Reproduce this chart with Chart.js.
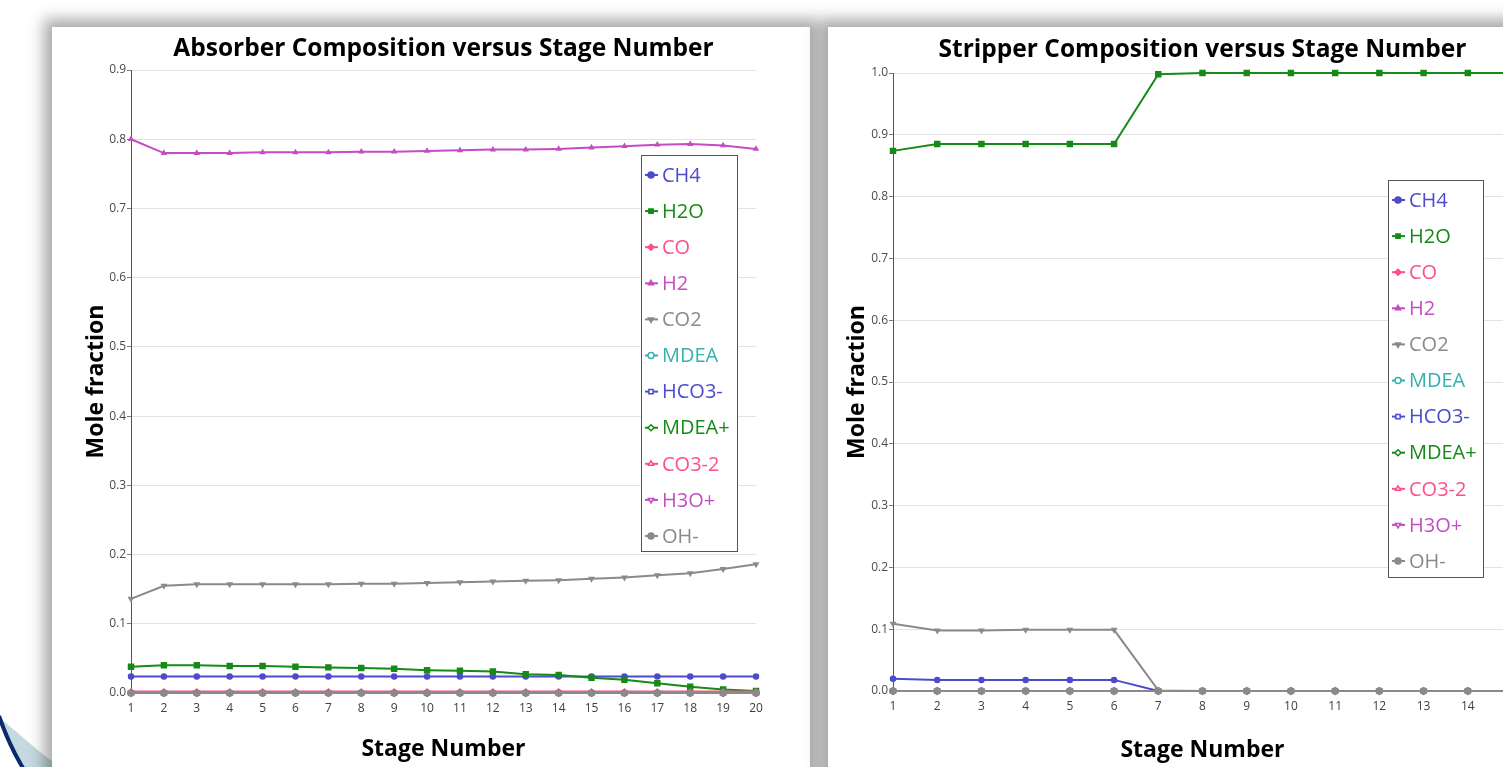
<!DOCTYPE html>
<html>
<head>
<meta charset="utf-8">
<script src="https://cdn.jsdelivr.net/npm/chart.js@4.4.0/dist/chart.umd.min.js"></script>
<style>
  html, body { margin: 0; padding: 0; width: 1503px; height: 767px; overflow: hidden; background: #fff; }
  .deco { position: absolute; left: 0; top: 700px; }
  .panel { position: absolute; background: #fff; overflow: hidden; box-shadow: 0 0 14px 8px rgba(0,0,0,0.34); }
  #panelA { left: 52px; top: 27px; width: 758px; height: 780px; }
  #panelB { left: 828px; top: 27px; width: 720px; height: 780px; }
  canvas { position: absolute; left: 0; top: 0; }
</style>
</head>
<body>
<svg class="deco" width="70" height="67" viewBox="0 700 70 67">
  <path d="M0,718 Q9,745 23,767 L60,767 L40,752 Z" fill="#c4d9e0"/>
  <path d="M-1,716 Q9,745 23,768" fill="none" stroke="#0b2a6b" stroke-width="4"/>
</svg>
<div class="panel" id="panelA"><canvas id="absChart" width="758" height="740"></canvas></div>
<div class="panel" id="panelB"><canvas id="strChart" width="700" height="740"></canvas></div>

<script>
// nama komponen (urutan legend)
const components = ['CH4', 'H2O', 'CO', 'H2', 'CO2', 'MDEA', 'HCO3-', 'MDEA+', 'CO3-2', 'H3O+', 'OH-'];

// Absorber - 20 stage
const absStages = ['1','2','3','4','5','6','7','8','9','10','11','12','13','14','15','16','17','18','19','20'];
const absCH4 = [0.024,0.024,0.024,0.024,0.024,0.024,0.024,0.024,0.024,0.024,0.024,0.024,0.024,0.024,0.024,0.024,0.024,0.024,0.024,0.024];
const absH2O = [0.038,0.040,0.040,0.039,0.039,0.038,0.037,0.036,0.035,0.033,0.032,0.031,0.027,0.026,0.022,0.019,0.014,0.009,0.005,0.003];
const absCO  = [0.002,0.002,0.002,0.002,0.002,0.002,0.002,0.002,0.002,0.002,0.002,0.002,0.002,0.002,0.002,0.002,0.002,0.002,0.002,0.002];
const absH2  = [0.800,0.780,0.780,0.780,0.781,0.781,0.781,0.782,0.782,0.783,0.784,0.785,0.785,0.786,0.788,0.790,0.792,0.793,0.791,0.786];
const absCO2 = [0.136,0.155,0.157,0.157,0.157,0.157,0.157,0.158,0.158,0.159,0.160,0.161,0.162,0.163,0.165,0.167,0.170,0.173,0.179,0.186];
const absIons = [0,0,0,0,0,0,0,0,0,0,0,0,0,0,0,0,0,0,0,0]; // MDEA, HCO3-, MDEA+, CO3-2, H3O+, OH-

// Stripper - 15 stage (yang terlihat)
const strStages = ['1','2','3','4','5','6','7','8','9','10','11','12','13','14','15'];
const strCH4 = [0.020,0.018,0.018,0.018,0.018,0.018,0,0,0,0,0,0,0,0,0];
const strH2O = [0.874,0.885,0.885,0.885,0.885,0.885,0.998,1.0,1.0,1.0,1.0,1.0,1.0,1.0,1.0];
const strCO  = [0,0,0,0,0,0,0,0,0,0,0,0,0,0,0];
const strH2  = [0,0,0,0,0,0,0,0,0,0,0,0,0,0,0];
const strCO2 = [0.109,0.098,0.098,0.099,0.099,0.099,0.001,0,0,0,0,0,0,0,0];
const strIons = [0,0,0,0,0,0,0,0,0,0,0,0,0,0,0];

const absYTicks = ['0.0','0.1','0.2','0.3','0.4','0.5','0.6','0.7','0.8','0.9'];
const strYTicks = ['0.0','0.1','0.2','0.3','0.4','0.5','0.6','0.7','0.8','0.9','1.0'];

// gaya tiap komponen
const styles = {
  'CH4':   { color: '#4b4bcc', point: 'circle',   rot: 0,   filled: true,  r: 2.5 },
  'H2O':   { color: '#168a16', point: 'rect',     rot: 0,   filled: true,  r: 3.5 },
  'CO':    { color: '#ff4f86', point: 'rectRot',  rot: 0,   filled: true,  r: 2.5 },
  'H2':    { color: '#c44cc4', point: 'triangle', rot: 0,   filled: true,  r: 2.2 },
  'CO2':   { color: '#8a8a8a', point: 'triangle', rot: 180, filled: true,  r: 2.5 },
  'MDEA':  { color: '#35b0b0', point: 'circle',   rot: 0,   filled: false, r: 2.5 },
  'HCO3-': { color: '#4b4bcc', point: 'rect',     rot: 0,   filled: false, r: 3 },
  'MDEA+': { color: '#168a16', point: 'rectRot',  rot: 0,   filled: false, r: 3 },
  'CO3-2': { color: '#ff4f86', point: 'triangle', rot: 0,   filled: false, r: 3 },
  'H3O+':  { color: '#c44cc4', point: 'triangle', rot: 180, filled: false, r: 3 },
  'OH-':   { color: '#8a8a8a', point: 'circle',   rot: 0,   filled: true,  r: 3 },
};

Chart.defaults.font.family = '"Open Sans", sans-serif';

function makeDataset(name, values, idx) {
  const s = styles[name];
  return {
    label: name,
    data: values,
    order: components.length - idx, // seri terakhir digambar paling atas
    borderColor: s.color,
    backgroundColor: s.color,
    borderWidth: 2,
    pointStyle: s.point,
    pointRotation: s.rot,
    pointRadius: s.r,
    pointBorderWidth: 1.5,
    pointBackgroundColor: s.filled ? s.color : '#ffffff',
    pointBorderColor: s.color,
    tension: 0,
    clip: false,
  };
}

// legend kotak di dalam area plot
const boxLegend = {
  id: 'boxLegend',
  afterDraw(chart, args, opts) {
    const { ctx, chartArea } = chart;
    const x0 = Math.round(chartArea.right - opts.right);
    const y0 = Math.round(chartArea.top + opts.top);
    ctx.save();
    ctx.fillStyle = '#fff';
    ctx.fillRect(x0, y0, opts.width, opts.height);
    ctx.strokeStyle = '#555';
    ctx.lineWidth = 1;
    ctx.strokeRect(x0 + 0.5, y0 + 0.5, opts.width, opts.height);
    chart.data.datasets.forEach((ds, i) => {
      const cy = y0 + 20 + i * 36.1;
      ctx.strokeStyle = ds.borderColor;
      ctx.lineWidth = 2;
      ctx.beginPath();
      ctx.moveTo(x0 + 4, cy);
      ctx.lineTo(x0 + 17, cy);
      ctx.stroke();
      ctx.fillStyle = ds.pointBackgroundColor;
      ctx.lineWidth = 1.5;
      Chart.helpers.drawPoint(ctx, { pointStyle: ds.pointStyle, rotation: ds.pointRotation, radius: 3, borderWidth: 1.5 }, x0 + 10, cy);
      ctx.fillStyle = ds.borderColor;
      ctx.font = '20px "Open Sans", sans-serif';
      ctx.textBaseline = 'middle';
      ctx.textAlign = 'left';
      ctx.fillText(ds.label, x0 + 21, cy + 1);
    });
    ctx.restore();
  }
};

function makeChart(canvasId, cfg) {
  return new Chart(document.getElementById(canvasId), {
    type: 'line',
    data: { labels: cfg.labels, datasets: cfg.datasets },
    options: {
      responsive: false,
      animation: false,
      layout: { padding: { left: 0, right: cfg.padRight, top: 0, bottom: 0 } },
      plugins: {
        legend: { display: false },
        tooltip: { enabled: false },
        title: {
          display: true,
          text: cfg.title,
          fullSize: false,
          color: '#000',
          font: { size: 24.5, weight: 'bold' },
          padding: { top: cfg.titleTop, bottom: cfg.titleBottom },
        },
        boxLegend: cfg.legend,
      },
      scales: {
        x: {
          afterFit: (s) => { s.height = cfg.xHeight; },
          grid: { display: false, drawTicks: false },
          border: { display: true, color: '#8a8a8a', width: 1 },
          ticks: { color: '#404040', font: { size: 12 }, padding: 8, maxRotation: 0, autoSkip: false },
          title: { display: true, text: 'Stage Number', color: '#000', font: { size: 23, weight: 'bold' }, padding: { bottom: cfg.xTitleBottom } },
        },
        y: {
          min: 0,
          max: cfg.yMax,
          afterFit: (s) => { s.width = cfg.yWidth; },
          grid: { color: '#e3e3e3', drawTicks: true, tickLength: 4, tickColor: '#777' },
          border: { display: true, color: '#555', width: 1 },
          ticks: {
            stepSize: 0.1,
            color: '#4a4a4a',
            font: { size: 12 },
            padding: 1,
            callback: (v, i) => cfg.yTicks[i],
          },
          title: { display: true, text: 'Mole fraction', color: '#000', font: { size: 23, weight: 'bold' }, padding: { top: cfg.yTitleTop } },
        },
      },
    },
    plugins: [boxLegend],
  });
}

const absSeries = [absCH4, absH2O, absCO, absH2, absCO2, absIons, absIons, absIons, absIons, absIons, absIons];
const strSeries = [strCH4, strH2O, strCO, strH2, strCO2, strIons, strIons, strIons, strIons, strIons, strIons];

makeChart('absChart', {
  labels: absStages,
  datasets: components.map((c, i) => makeDataset(c, absSeries[i], i)),
  title: 'Absorber Composition versus Stage Number',
  titleTop: 7.3, titleBottom: 6.3,
  padRight: 54,
  xHeight: 74, xTitleBottom: 4.2,
  yWidth: 79, yTitleTop: 30.2,
  yMax: 0.9, yTicks: absYTicks,
  legend: { right: 115, top: 85, width: 96, height: 396 },
});

makeChart('strChart', {
  labels: strStages,
  datasets: components.map((c, i) => makeDataset(c, strSeries[i], i)),
  title: 'Stripper Composition versus Stage Number',
  titleTop: 8.3, titleBottom: 8.3,
  padRight: 16,
  xHeight: 76, xTitleBottom: 3.2,
  yWidth: 65, yTitleTop: 15.2,
  yMax: 1.0, yTicks: strYTicks,
  legend: { right: 124, top: 107, width: 95, height: 397 },
});
</script>
</body>
</html>
